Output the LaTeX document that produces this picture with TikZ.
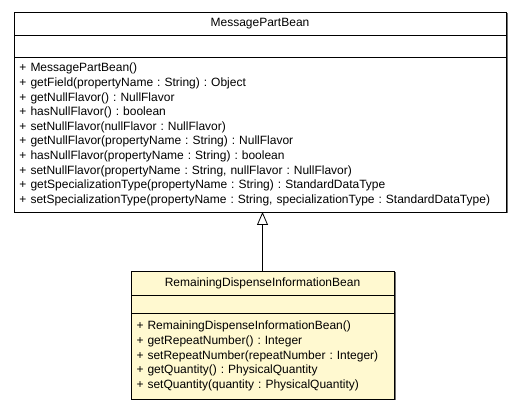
\documentclass[tikz,border=0pt]{standalone}
\usepackage{fontspec}
\setmainfont{Liberation Sans}
\usetikzlibrary{arrows.meta, positioning, backgrounds, calc}
\definecolor{beanfill}{HTML}{FFF9D0}
\definecolor{shadowgray}{HTML}{707070}
\frenchspacing

\tikzset{
  umlpart/.style={draw=black, line width=0.8pt, outer sep=0pt, inner sep=0pt,
    font=\fontsize{12}{14.6}\selectfont},
  classname/.style={umlpart},
  classattrs/.style={umlpart},
  classops/.style={umlpart, align=left, inner xsep=5.5pt},
  inherits/.style={line width=0.8pt, -{Triangle[open, length=13pt, width=11pt]}}
}

\begin{document}
\begin{tikzpicture}[x=1pt, y=1pt]
        \useasboundingbox (0,0) rectangle (525,411);
        % parent class
        \node[classname, fill=white, minimum width=492pt, minimum height=23pt] (parent) at (260,387.5) {MessagePartBean};
        \node[classattrs, fill=white, minimum width=492pt, minimum height=22pt, below=0pt of parent] (parentattrs) {};
        \node[classops, fill=white, text width=481pt, minimum height=155pt, below=0pt of parentattrs] (parentops) {%
          + MessagePartBean()\\
          + getField(propertyName : String) : Object\\
          + getNullFlavor() : NullFlavor\\
          + hasNullFlavor() : boolean\\
          + setNullFlavor(nullFlavor : NullFlavor)\\
          + getNullFlavor(propertyName : String) : NullFlavor\\
          + hasNullFlavor(propertyName : String) : boolean\\
          + setNullFlavor(propertyName : String, nullFlavor : NullFlavor)\\
          + getSpecializationType(propertyName : String) : StandardDataType\\
          + setSpecializationType(propertyName : String, specializationType : StandardDataType)};
        % child class
        \node[classname, fill=beanfill, minimum width=263pt, minimum height=24pt] (child) at (262.5,128) {RemainingDispenseInformationBean};
        \node[classattrs, fill=beanfill, minimum width=263pt, minimum height=18pt, below=0pt of child] (childattrs) {};
        \node[classops, fill=beanfill, text width=252pt, minimum height=86pt, below=0pt of childattrs] (childops) {%
          + RemainingDispenseInformationBean()\\
          + getRepeatNumber() : Integer\\
          + setRepeatNumber(repeatNumber : Integer)\\
          + getQuantity() : PhysicalQuantity\\
          + setQuantity(quantity : PhysicalQuantity)};
        % shadows
        \begin{scope}[on background layer]
          \fill[shadowgray] ($(parent.north west)+(1.5,-1.5)$) rectangle ($(parentops.south east)+(1.5,-1.5)$);
          \fill[shadowgray] ($(child.north west)+(1.5,-1.5)$) rectangle ($(childops.south east)+(1.5,-1.5)$);
        \end{scope}
        % generalization
        \draw[inherits] (child.north) -- (child.north |- parentops.south);
      \end{tikzpicture}
\end{document}
